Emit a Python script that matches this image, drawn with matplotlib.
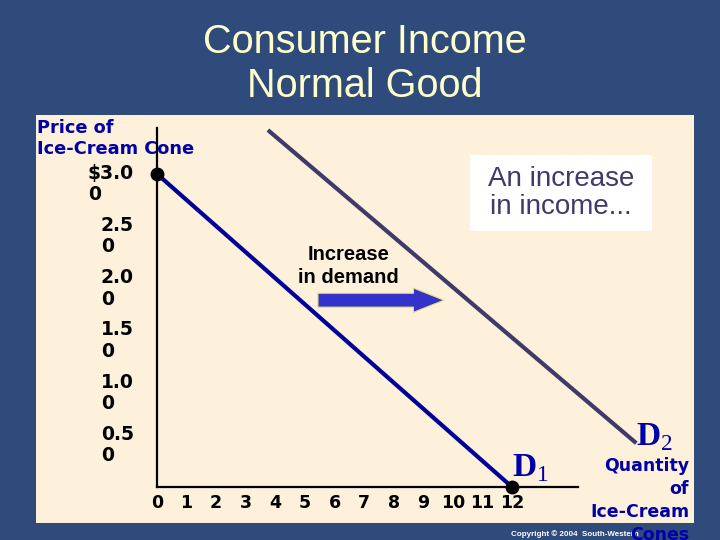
import matplotlib
matplotlib.use("Agg")
import matplotlib.pyplot as plt
from matplotlib.patches import Rectangle, FancyArrowPatch
from matplotlib.transforms import offset_copy

# demand curves (quantity, price)
quantity_d1 = [0, 12]
price_d1 = [3.00, 0.00]
quantity_d2 = [3.75, 16.2]
price_d2 = [3.42, 0.42]

x_ticks = list(range(0, 13))
y_ticks = [3.0, 2.5, 2.0, 1.5, 1.0, 0.5]
y_labels = ["$3.0\n0", "2.5\n0", "2.0\n0", "1.5\n0", "1.0\n0", "0.5\n0"]

shift_start = (5.44, 1.79)
shift_end = (9.70, 1.79)

NAVY = "#2E4B7B"
CREAM = "#FDF1DB"
BLUE = "#0000A8"
D1_COLOR = "#000099"
D2_COLOR = "#403A6A"

plt.rcParams["mathtext.fontset"] = "custom"
plt.rcParams["mathtext.rm"] = "Liberation Serif"
plt.rcParams["mathtext.bf"] = "Liberation Serif:bold"

W, H = 720, 540
fig = plt.figure(figsize=(7.2, 5.4), dpi=100, facecolor=NAVY)


def fx(x):
    return x / W


def fy(y):
    return 1 - y / H


def panel(x0, y0, x1, y1, color):
    fig.patches.append(Rectangle((fx(x0), fy(y1)), fx(x1) - fx(x0), fy(y0) - fy(y1),
                                 transform=fig.transFigure, facecolor=color,
                                 edgecolor="none", zorder=-10))


# cream slide panel and white note box
panel(36, 115, 694, 523, CREAM)
panel(470, 155, 652, 231, "white")

fig.text(fx(365), fy(64), "Consumer Income\nNormal Good", ha="center", va="center",
         color="#FFFFCC", fontsize=28.5, family="Liberation Sans", linespacing=1.2)

ax = fig.add_axes([fx(157), fy(487), fx(578) - fx(157), fy(128) - fy(487)])
ax.set_facecolor("none")
ax.set_xlim(0, 14.23)
ax.set_ylim(0, 3.44)
for s in ["top", "right"]:
    ax.spines[s].set_visible(False)
for s in ["left", "bottom"]:
    ax.spines[s].set_linewidth(1.6)
    ax.spines[s].set_color("black")

ax.set_xticks(x_ticks, [str(t) for t in x_ticks])
ax.set_yticks([])
ax.tick_params(length=0, labelsize=12.5, colors="black", pad=5)
for lbl in ax.get_xticklabels():
    lbl.set_fontweight("bold")

# price labels wrap onto two lines in the original slide
ylab_trans = offset_copy(ax.get_yaxis_transform(), fig=fig, x=-23, y=10, units="dots")
for val, txt in zip(y_ticks, y_labels):
    ax.text(0, val, txt, transform=ylab_trans, ha="right", va="top",
            multialignment="left", fontsize=13.5, fontweight="bold",
            color="black", linespacing=1.15)

ax.plot(quantity_d1, price_d1, color=D1_COLOR, lw=3, solid_capstyle="butt", zorder=3)
ax.plot(quantity_d2, price_d2, color=D2_COLOR, lw=3, solid_capstyle="butt",
        clip_on=False, zorder=3)
ax.plot([quantity_d1[0], quantity_d1[-1]], [price_d1[0], price_d1[-1]], "o",
        color="black", ms=9, clip_on=False, zorder=4)

ax.text(quantity_d1[-1], price_d1[-1] + 0.1, r"$\mathbf{D}_1$", color=BLUE,
        fontsize=24, ha="left", va="baseline")
ax.text(quantity_d2[-1], price_d2[-1] - 0.02, r"$\mathbf{D}_2$", color=BLUE,
        fontsize=24, ha="left", va="baseline", clip_on=False)

arrow = FancyArrowPatch(shift_start, shift_end,
                        arrowstyle="simple,head_length=2.2,head_width=1.75,tail_width=1.0",
                        mutation_scale=10, shrinkA=0, shrinkB=0,
                        facecolor="#3333CC", edgecolor="#E6E070", lw=0.8, zorder=5)
ax.add_patch(arrow)
ax.text(6.46, 2.12, "Increase\nin demand", ha="center", va="center", fontsize=14.5,
        fontweight="bold", family="Liberation Sans", color="black", linespacing=1.25)

fig.text(fx(561), fy(193), "An increase\nin income...", ha="center", va="center",
         fontsize=20, family="Liberation Sans", color=D2_COLOR, linespacing=1.15)

fig.text(fx(37), fy(119), "Price of\nIce-Cream Cone", ha="left", va="top",
         fontsize=12.8, fontweight="bold", color=BLUE, linespacing=1.25)

fig.text(fx(511), fy(534), "Copyright \u00a9 2004  South-Western", ha="left",
         va="center", fontsize=5.8, fontweight="bold", family="Liberation Sans",
         color="white")
fig.text(fx(689), fy(457), "Quantity\nof\nIce-Cream\nCones", ha="right", va="top",
         fontsize=12.5, fontweight="bold", color=BLUE, linespacing=1.35)

fig.savefig("out.png", dpi=100, facecolor=NAVY)
